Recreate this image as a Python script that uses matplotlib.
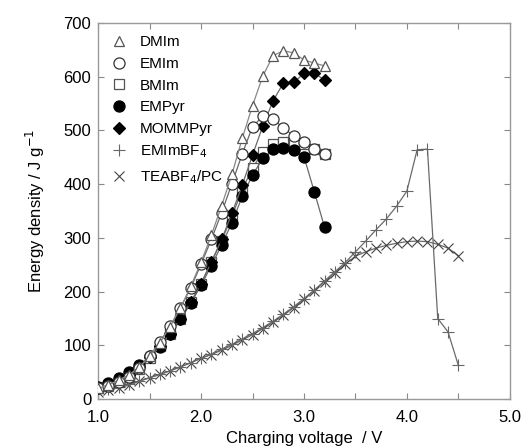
import matplotlib
matplotlib.use("Agg")
import matplotlib.pyplot as plt
from matplotlib.ticker import MultipleLocator, FormatStrFormatter
from matplotlib.lines import Line2D

plt.rcParams['font.family'] = ['Liberation Sans', 'DejaVu Sans']

v_il = [1.0, 1.1, 1.2, 1.3, 1.4, 1.5, 1.6, 1.7, 1.8, 1.9, 2.0, 2.1, 2.2,
        2.3, 2.4, 2.5, 2.6, 2.7, 2.8, 2.9, 3.0, 3.1, 3.2]
dmim = [20, 27, 35, 45, 60, 80, 105, 135, 170, 210, 255, 305, 360,
        418, 485, 546, 601, 639, 648, 644, 631, 625, 620]
emim = [20, 25, 32, 42, 58, 80, 107, 136, 170, 207, 251, 297, 347,
        401, 456, 507, 526, 521, 504, 490, 479, 465, 456]
bmim = [20, 25, 32, 42, 57, 77, 98, 122, 150, 180, 215, 255, 295,
        340, 390, 430, 460, 474, 478, 478, 475, 466, 456]
empyr = [22, 30, 39, 51, 63, 80, 97, 121, 149, 178, 212, 248, 287,
         328, 377, 417, 448, 465, 467, 464, 451, 386, 320]
mommpyr = [20, 26, 34, 45, 60, 78, 98, 122, 150, 180, 215, 255, 297,
           346, 398, 454, 508, 555, 588, 589, 606, 606, 594]

v_org = [1.0, 1.1, 1.2, 1.3, 1.4, 1.5, 1.6, 1.7, 1.8, 1.9, 2.0, 2.1, 2.2,
         2.3, 2.4, 2.5, 2.6, 2.7, 2.8, 2.9, 3.0, 3.1, 3.2, 3.3, 3.4, 3.5,
         3.6, 3.7, 3.8, 3.9, 4.0, 4.1, 4.2, 4.3, 4.4, 4.5]
emimbf4 = [16, 19, 23, 28, 34, 40, 46, 53, 60, 68, 76, 84, 93, 102, 112,
           122, 133, 145, 158, 172, 187, 203, 220, 237, 254, 274, 294, 315,
           335, 359, 387, 464, 465, 150, 125, 63]
teabf4 = [14, 17, 21, 26, 33, 40, 46, 53, 60, 68, 76, 83, 91, 100, 110,
          120, 131, 143, 156, 170, 186, 202, 218, 235, 251, 266, 274, 281,
          286, 290, 293, 294, 293, 288, 281, 267]

labels_order = ['DMIm', 'EMIm', 'BMIm', 'EMPyr', 'MOMMPyr',
                'EMImBF$_4$', 'TEABF$_4$/PC']

fig = plt.figure(figsize=(5.25, 4.47), dpi=100)
ax = fig.add_axes([0.187, 0.107, 0.784, 0.842])

lc = '#6a6a6a'
lw = 0.9
styles = {
    'TEABF$_4$/PC': dict(marker='x', ms=7, mfc='none', mec='#444444', mew=0.8),
    'EMImBF$_4$': dict(marker='+', ms=9, mfc='none', mec='#666666', mew=0.8),
    'BMIm': dict(marker='s', ms=7, mfc='white', mec='#555555', mew=0.9),
    'EMPyr': dict(marker='o', ms=8, mfc='black', mec='black', mew=0.9),
    'MOMMPyr': dict(marker='D', ms=6, mfc='black', mec='black', mew=0.9),
    'EMIm': dict(marker='o', ms=8, mfc='white', mec='#333333', mew=0.9),
    'DMIm': dict(marker='^', ms=7, mfc='white', mec='#555555', mew=0.9),
}
series = [
    ('TEABF$_4$/PC', v_org, teabf4, lc, 2),
    ('EMImBF$_4$', v_org, emimbf4, lc, 2),
    ('BMIm', v_il, bmim, lc, 3),
    ('EMPyr', v_il, empyr, lc, 4),
    ('MOMMPyr', v_il, mommpyr, lc, 4),
    ('EMIm', v_il, emim, lc, 5),
    ('DMIm', v_il, dmim, '#888888', 5),
]
for name, xs, ys, c, z in series:
    ax.plot(xs, ys, color=c, lw=lw, zorder=z, **styles[name])

ax.set_xlim(1.0, 5.0)
ax.set_ylim(0, 700)
ax.xaxis.set_major_locator(MultipleLocator(1.0))
ax.xaxis.set_minor_locator(MultipleLocator(0.5))
ax.yaxis.set_major_locator(MultipleLocator(100))
ax.xaxis.set_major_formatter(FormatStrFormatter('%.1f'))
ax.tick_params(which='both', direction='in', top=True, right=True,
               color='#888888', labelsize=12)
ax.tick_params(which='major', length=4, width=0.8)
ax.tick_params(axis='x', which='major', pad=8)
ax.tick_params(axis='y', which='major', pad=5)
ax.tick_params(axis='y', which='minor', length=0)
ax.tick_params(axis='x', which='minor', length=4, width=0.8)
for s in ax.spines.values():
    s.set_color('#999999')
    s.set_linewidth(1.0)

ax.set_xlabel('Charging voltage  / V', fontsize=12, labelpad=4)
ax.set_ylabel('Energy density / J g$^{-1}$', fontsize=12, labelpad=12)

leg_handles = [Line2D([], [], ls='none', **styles[n]) for n in labels_order]
ax.legend(leg_handles, labels_order, loc='upper left', frameon=False,
          fontsize=11, handlelength=1.0, handletextpad=0.9,
          labelspacing=0.5, borderaxespad=0.3,
          bbox_to_anchor=(0.005, 0.995))

fig.savefig('out.png', dpi=100)
